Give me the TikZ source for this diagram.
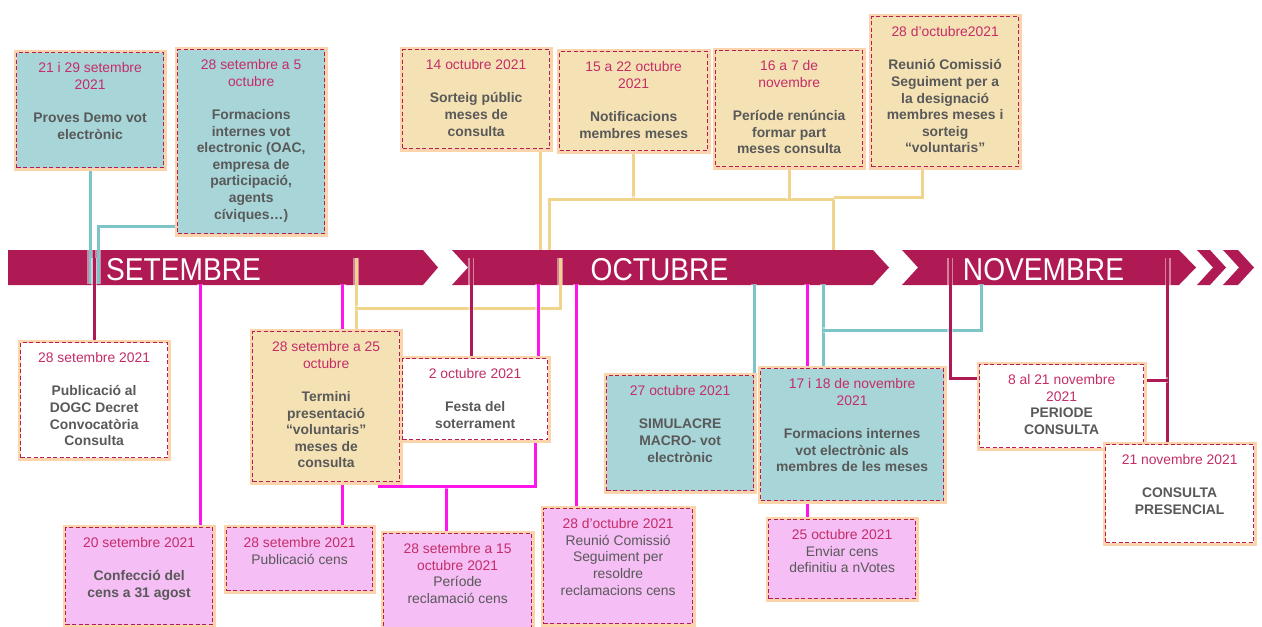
\documentclass[tikz,border=0pt]{standalone}
\usepackage{fontspec}
\setmainfont{Liberation Sans}
\usepackage{graphicx}
\pgfdeclarelayer{background}
\pgfsetlayers{background,main}
\newlength{\px}\setlength{\px}{0.02cm}
\definecolor{barc}{RGB}{176,26,84}
\definecolor{boxc}{RGB}{180,30,85}
\definecolor{glowc}{RGB}{252,212,172}
\definecolor{datec}{RGB}{196,45,105}
\definecolor{bodyc}{RGB}{89,89,89}
\definecolor{tealfill}{RGB}{167,213,216}
\definecolor{tanfill}{RGB}{245,226,180}
\definecolor{pinkfill}{RGB}{245,190,245}
\definecolor{tealc}{RGB}{125,195,200}
\definecolor{tanc}{RGB}{240,212,140}
\definecolor{magc}{RGB}{255,20,235}
\tikzstyle{box}=[draw=boxc, line width=1.3\px, dash pattern=on 4\px off 2.5\px, inner sep=0pt,
  font=\fontsize{7.9}{9.45}\selectfont, preaction={draw=glowc, solid, line width=6\px}]
\tikzstyle{month}=[text=white, font=\fontsize{18}{20}\selectfont, anchor=base, inner sep=0pt]
\tikzstyle{conn}=[line width=3\px, preaction={draw=white, draw opacity=0.45, line width=6\px}]
\tikzstyle{tealline}=[conn, draw=tealc]
\tikzstyle{tanline}=[conn, draw=tanc]
\tikzstyle{magline}=[conn, draw=magc]
\tikzstyle{darkline}=[conn, draw=barc]
% width, height, date, gap, body
\newcommand{\evtext}[5]{\parbox[t][\dimexpr\px*(#2)\relax][t]{\dimexpr\px*(#1)\relax}{\centering
  \rule{0pt}{20\px}{\color{datec}#3}\\#4{\color{bodyc}#5}}}
\begin{document}
\begin{tikzpicture}[x=0.02cm, y=-0.02cm]
\useasboundingbox (0,0) rectangle (1262,626);
\coordinate (bartop) at (0,250);
\coordinate (barmid) at (0,258);
\coordinate (barbot) at (0,284);

% First we draw the month bar
\begin{pgfonlayer}{background}
\fill[barc] (8,250) -- (423,250) -- (438,267.5) -- (423,285) -- (8,285) -- cycle;
\fill[barc] (452,250) -- (873,250) -- (889,267.5) -- (873,285) -- (452,285) -- (468,267.5) -- cycle;
\fill[barc] (902,250) -- (1179,250) -- (1196,267.5) -- (1179,285) -- (902,285) -- (918,267.5) -- cycle;
\fill[barc] (1197,250) -- (1210,250) -- (1226,267.5) -- (1210,285) -- (1197,285) -- (1213,267.5) -- cycle;
\fill[barc] (1223,250) -- (1238,250) -- (1254,267.5) -- (1238,285) -- (1223,285) -- (1239,267.5) -- cycle;
\node[month] (setembre) at (183.5,280) {\scalebox{0.89}[1]{SETEMBRE}};
\node[month] (octubre) at (659.5,280) {\scalebox{0.89}[1]{OCTUBRE}};
\node[month] (novembre) at (1043.5,280) {\scalebox{0.89}[1]{NOVEMBRE}};
\end{pgfonlayer}

% Then the boxes with a plain text
\foreach \nm/\fc/\xa/\ya/\xb/\yb/\dt/\bd in {
  pubcens/pinkfill/226/527/372/590/{28 setembre 2021}/{Publicació cens},
  reclam/pinkfill/383/533/531/630/{28 setembre a 15\\octubre 2021}/{Període\\reclamació cens},
  resoldre/pinkfill/543/508/692/623/{28 d’octubre 2021}/{Reunió Comissió\\Seguiment per\\resoldre\\reclamacions cens},
  nvotes/pinkfill/768/519/915/598/{25 octubre 2021}/{Enviar cens\\definitiu a nVotes},
  periode/white/979/364/1143/447/{8 al 21 novembre\\2021}/{\bfseries PERIODE\\CONSULTA}}
\node[box, fill=\fc, anchor=north west] (\nm) at (\xa,\ya) {\evtext{\xb-\xa}{\yb-\ya}{\dt}{}{\bd}};

% and the boxes with a bold text
\foreach \nm/\fc/\xa/\ya/\xb/\yb/\dt/\bd in {
  demo/tealfill/16/52/163/167/{21 i 29 setembre\\2021}/{Proves Demo vot\\electrònic},
  formint/tealfill/177/49/324/233/{28 setembre a 5\\octubre}/{Formacions\\internes vot\\electronic (OAC,\\empresa de\\participació,\\agents\\cíviques…)},
  sorteig/tanfill/402/49/549/148/{14 octubre 2021}/{Sorteig públic\\meses de\\consulta},
  notif/tanfill/559/51/707/150/{15 a 22 octubre\\2021}/{Notificacions\\membres meses},
  renuncia/tanfill/715/50/862/166/{16 a 7 de\\novembre}/{Període renúncia\\formar part\\meses consulta},
  comissio/tanfill/871/16/1018/166/{28 d’octubre2021}/{Reunió Comissió\\Seguiment per a\\la designació\\membres meses i\\sorteig\\“voluntaris”},
  dogc/white/20/342/167/457/{28 setembre 2021}/{Publicació al\\DOGC Decret\\Convocatòria\\Consulta},
  termini/tanfill/252/331/399/481/{28 setembre a 25\\octubre}/{Termini\\presentació\\“voluntaris”\\meses de\\consulta},
  festa/white/402/358/547/439/{2 octubre 2021}/{Festa del\\soterrament},
  confeccio/pinkfill/65/527/212/624/{20 setembre 2021}/{Confecció del\\cens a 31 agost},
  simulacre/tealfill/606/375/753/490/{27 octubre 2021}/{SIMULACRE\\MACRO- vot\\electrònic},
  formmeses/tealfill/760/368/943/500/{17 i 18 de novembre\\2021}/{Formacions internes\\vot electrònic als\\membres de les meses},
  presencial/white/1105/444/1253/542/{21 novembre 2021}/{CONSULTA\\PRESENCIAL}}
\node[box, fill=\fc, anchor=north west] (\nm) at (\xa,\ya) {\evtext{\xb-\xa}{\yb-\ya}{\dt}{[\baselineskip]}{\bfseries\bd}};

% Connect boxes with the bar
\begin{pgfonlayer}{background}
\draw[tealline] (demo.south) -- (demo.south |- barbot);
\draw[tealline] ([yshift=8\px]formint.south west) -| ([xshift=-79\px]formint.south west |- barbot);
\draw[tealline] (simulacre.north east) -- (simulacre.north east |- barbot);
\draw[tealline] ([xshift=63\px]formmeses.north west) -- ([xshift=63\px]formmeses.north west |- barbot);
\draw[tealline] ([xshift=63\px,yshift=38\px]formmeses.north west) -| ([xshift=221\px]formmeses.north west |- barbot);

\draw[tanline] ([xshift=-10\px]sorteig.south east) -- ([xshift=-10\px]sorteig.south east |- bartop);
\draw[tanline] (notif.south) -- ++(0,48) coordinate (tanhub);
\draw[tanline] ([xshift=-84\px]tanhub |- bartop) |- ([xshift=200\px]tanhub) -- ([xshift=200\px]tanhub |- bartop);
\draw[tanline] (renuncia.south) -- (renuncia.south |- tanhub);
\draw[tanline] ([xshift=-23\px]comissio.south) |- ([xshift=200\px,yshift=2\px]tanhub);
\draw[tanline] ([xshift=30\px]termini.north) -- ([xshift=30\px]termini.north |- barmid);
\draw[tanline] ([xshift=30\px,yshift=23\px]termini.north) -| ([xshift=234\px]termini.north |- barmid);

\draw[magline] ([xshift=61\px]confeccio.north) -- ([xshift=61\px]confeccio.north |- barbot);
\draw[magline] ([xshift=43\px]pubcens.north) -- ([xshift=43\px]pubcens.north |- barbot);
\draw[magline] ([xshift=63\px]festa.north) -- ([xshift=63\px]festa.north |- barbot);
\draw[magline] ([xshift=-11\px]reclam.north) -- ++(0,-47) coordinate (maghub);
\draw[magline] ([xshift=60\px]festa.south) |- ([xshift=-69\px]maghub);
\draw[magline] ([xshift=-42\px]resoldre.north) -- ([xshift=-42\px]resoldre.north |- barbot);
\draw[magline] ([xshift=-35\px]nvotes.north) -- ([xshift=-35\px]nvotes.north |- barbot);

\draw[darkline] (dogc.north) -- (dogc.north |- barmid);
\draw[darkline] ([xshift=-4\px]festa.north) -- ([xshift=-4\px]festa.north |- barmid);
\draw[darkline] ([yshift=28\px]periode.west) -| ([xshift=-29\px]periode.west |- barmid);
\draw[darkline] ([xshift=-12\px]presencial.north) -- ([xshift=-12\px]presencial.north |- barmid);
\draw[darkline] ([yshift=26\px]periode.east) -- ++(24,0);
\end{pgfonlayer}
\end{tikzpicture}
\end{document}
